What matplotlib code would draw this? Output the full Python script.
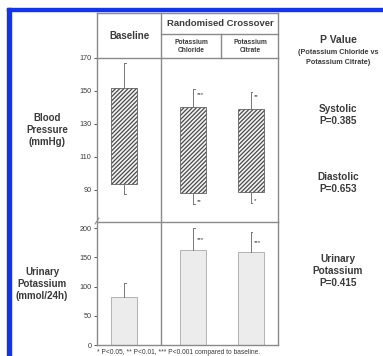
import matplotlib
matplotlib.use("Agg")
import matplotlib.pyplot as plt
from matplotlib.patches import Rectangle
from matplotlib.lines import Line2D

plt.rcParams['font.family'] = ['Liberation Sans', 'DejaVu Sans']
plt.rcParams['hatch.linewidth'] = 0.9

# ---- data ----
groups = ["Baseline", "Potassium Chloride", "Potassium Citrate"]
systolic = [151.6, 140.5, 139.0]
systolic_err = [15.2, 10.5, 10.3]
diastolic = [93.6, 88.4, 88.6]
diastolic_err = [6.2, 6.9, 6.2]
sys_stars = ["", "***", "**"]
dia_stars = ["", "**", "*"]
urinary_k = [81.5, 162.5, 159.5]
urinary_err = [25.0, 37.0, 34.0]
uk_stars = ["", "***", "***"]
bp_ticks = [90, 110, 130, 150, 170]
uk_ticks = [0, 50, 100, 150, 200]
p_values = {"Systolic": "0.385", "Diastolic": "0.653", "Urinary\nPotassium": "0.415"}

# ---- layout (pixels) ----
W, H = 383, 356
fig = plt.figure(figsize=(W / 100, H / 100), dpi=100)
fig.patch.set_facecolor('white')


def rect(x0, y0, x1, y1):
    return [x0 / W, 1 - y1 / H, (x1 - x0) / W, (y1 - y0) / H]


def fx(x):
    return x / W


def fy(y):
    return 1 - y / H


GRAY = '#8a8a8a'
TXT = '#3a3a3a'
X0, X1 = 97, 278
xpos = [27, 96, 153.5]
bw = 26

# blue frame
fig.patches.append(Rectangle((fx(7), fy(356)), 4 / W, (356 - 8) / H,
                             transform=fig.transFigure, color='#1234ec', zorder=5))
fig.patches.append(Rectangle((fx(7), fy(11)), (383 - 7) / W, 3 / H,
                             transform=fig.transFigure, color='#1234ec', zorder=5))

# header lines
for (xa, ya, xb, yb) in [(X0, 13, X1, 13), (X0, 13, X0, 58), (X1, 13, X1, 58),
                         (161, 13, 161, 58), (161, 34, X1, 34), (221, 34, 221, 58)]:
    fig.add_artist(Line2D([fx(xa), fx(xb)], [fy(ya), fy(yb)], color=GRAY, lw=1.0))

fig.text(fx(129), fy(36), "Baseline", ha='center', va='center', fontsize=7,
         fontweight='bold', color=TXT)
fig.text(fx(220), fy(24), "Randomised Crossover", ha='center', va='center', fontsize=6.8,
         fontweight='bold', color=TXT)
fig.text(fx(191), fy(46.5), "Potassium\nChloride", ha='center', va='center', fontsize=4.8,
         fontweight='bold', color=TXT, linespacing=1.25)
fig.text(fx(250), fy(46.5), "Potassium\nCitrate", ha='center', va='center', fontsize=4.8,
         fontweight='bold', color=TXT, linespacing=1.25)

# ---- blood pressure axes ----
ax1 = fig.add_axes(rect(X0, 58, X1, 222))
ax1.set_xlim(0, X1 - X0)
ax1.set_ylim(70.6, 170)
heights = [s - d for s, d in zip(systolic, diastolic)]
ax1.bar(xpos, heights, bottom=diastolic, width=bw, color='#f4f4f4', edgecolor='#4a4a4a',
        hatch='////////', linewidth=0.5, zorder=2)
for x, s, se, d, de, ss, ds in zip(xpos, systolic, systolic_err, diastolic, diastolic_err,
                                   sys_stars, dia_stars):
    ax1.plot([x, x], [s, s + se], color='#777777', lw=0.7)
    ax1.plot([x, x + 1.5], [s + se, s + se], color='#777777', lw=0.7)
    ax1.plot([x, x], [d, d - de], color='#777777', lw=0.7)
    ax1.plot([x, x + 1.5], [d - de, d - de], color='#777777', lw=0.7)
    if ss:
        ax1.annotate(ss, (x, s + se), xytext=(2.5, -3.5), textcoords='offset points',
                     fontsize=4.5, color=TXT, ha='left', va='center')
    if ds:
        ax1.annotate(ds, (x, d - de), xytext=(2.5, 1.5), textcoords='offset points',
                     fontsize=4.5, color=TXT, ha='left', va='center')
ax1.axvline(161 - X0, color=GRAY, lw=1.0)
ax1.set_xticks([])
ax1.set_yticks(bp_ticks)
ax1.tick_params(axis='y', labelsize=5.2, colors=TXT, length=2.5, width=0.6, pad=1.5)
for sp in ax1.spines.values():
    sp.set_color(GRAY)
    sp.set_linewidth(1.0)
ax1.patch.set_alpha(0)

# ---- urinary potassium axes ----
ax2 = fig.add_axes(rect(X0, 222, X1, 345))
ax2.set_xlim(0, X1 - X0)
ax2.set_ylim(0, 210.3)
ax2.bar(xpos, urinary_k, width=bw, color='#ececec', edgecolor='#a8a8a8', linewidth=0.6,
        zorder=2)
for x, v, e, st in zip(xpos, urinary_k, urinary_err, uk_stars):
    ax2.plot([x, x], [v, v + e], color='#777777', lw=0.7)
    ax2.plot([x, x + 1.5], [v + e, v + e], color='#777777', lw=0.7)
    if st:
        ax2.annotate(st, (x, v + e), xytext=(2.5, -8), textcoords='offset points',
                     fontsize=4.5, color=TXT, ha='left', va='center')
ax2.axvline(161 - X0, color=GRAY, lw=1.0)
ax2.set_xticks([])
ax2.set_yticks(uk_ticks)
ax2.tick_params(axis='y', labelsize=5.2, colors=TXT, length=2.5, width=0.6, pad=1.5)
for sp in ax2.spines.values():
    sp.set_color(GRAY)
    sp.set_linewidth(1.0)
ax2.spines['top'].set_visible(False)
ax2.patch.set_alpha(0)

# break mark
fig.add_artist(Line2D([fx(95), fx(99)], [fy(224), fy(218)], color=GRAY, lw=0.7))

# left labels
fig.text(fx(47), fy(130), "Blood\nPressure\n(mmHg)", ha='center', va='center', fontsize=7,
         fontweight='bold', color=TXT, linespacing=1.3)
fig.text(fx(42), fy(284), "Urinary\nPotassium\n(mmol/24h)", ha='center', va='center',
         fontsize=7, fontweight='bold', color=TXT, linespacing=1.3)

# right labels
fig.text(fx(338), fy(40), "P Value", ha='center', va='center', fontsize=7.5,
         fontweight='bold', color=TXT)
fig.text(fx(338), fy(57.5), "(Potassium Chloride vs\nPotassium Citrate)", ha='center',
         va='center', fontsize=5.2, fontweight='bold', color=TXT, linespacing=1.4)
pv_y = [115.5, 183.5, 271]
for (name, p), y in zip(p_values.items(), pv_y):
    fig.text(fx(338), fy(y), f"{name}\nP={p}", ha='center', va='center', fontsize=7.2,
             fontweight='bold', color=TXT, linespacing=1.25)

# footnote
fig.text(fx(97), fy(352), "* P<0.05, ** P<0.01, *** P<0.001 compared to baseline.",
         ha='left', va='center', fontsize=4.8, color=TXT)

fig.savefig("out.png", dpi=100)
